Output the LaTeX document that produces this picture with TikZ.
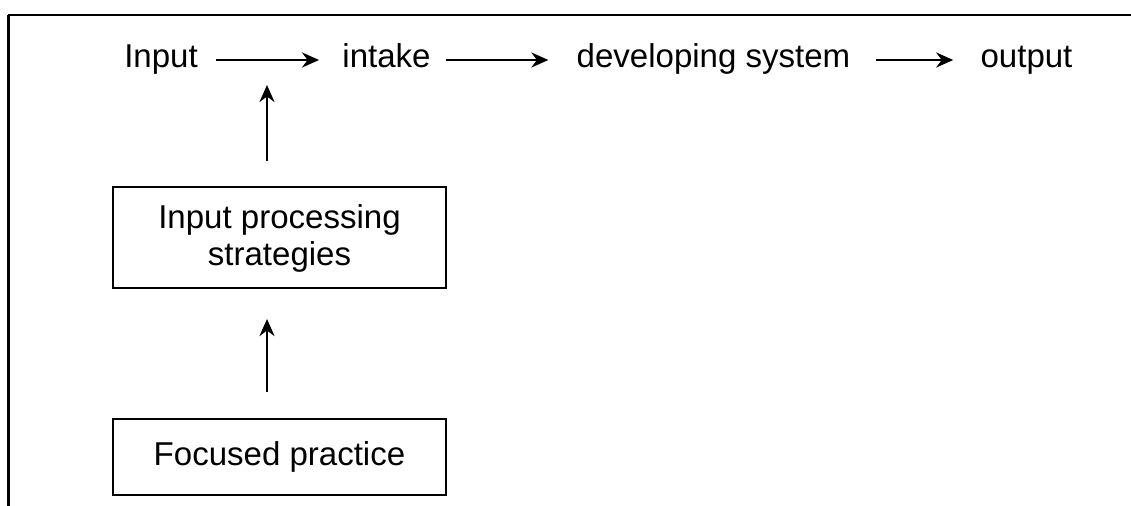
\documentclass[tikz,border=0pt]{standalone}
\usepackage{fontspec}
\setmainfont{Liberation Sans}
\usetikzlibrary{arrows.meta,positioning}
\tikzset{
  word/.style={font=\fontsize{18.8}{21}\selectfont,inner sep=0pt,
               anchor=base,text height=0.5cm,text depth=0.18cm},
  stagebox/.style={draw,line width=1.2pt,minimum width=6.66cm,
                   font=\fontsize{18.8}{21}\selectfont,align=center,inner sep=0pt},
  flow/.style={-{Stealth[length=0.34cm,width=0.3cm]},line width=1.5pt},
}
\begin{document}
\begin{tikzpicture}[x=0.02cm,y=-0.02cm]
  \useasboundingbox (0,0) rectangle (1131,506);
  \draw[line width=1.2pt](1131,15)--(8,15);
  \draw[line width=1.8pt](8.5,15)--(8.5,506);
  \foreach \n/\x/\t in {
    input/161/{Input},
    intake/386.5/{intake},
    devsys/713.5/{developing system},
    output/1026.5/{output}
  }{
    \node[word](\n)at(\x,68){\t};
  }
  \foreach \a/\b/\s/\e in {
    input/intake/0.36cm/0.46cm,
    intake/devsys/0.30cm/0.56cm,
    devsys/output/0.50cm/0.54cm
  }{
    \draw[flow,shorten <=\s,shorten >=\e](\a.east)--(\b.west);
  }
  \node[stagebox,minimum height=2.02cm](strat)at(279.5,237.5)
    {\strut Input processing\\strategies};
  \node[stagebox,minimum height=1.52cm](focus)at(279.5,457)
    {Focused practice};
  \coordinate(meet)at(267,85);
  \draw[flow,shorten <=0.5cm](strat.north -| meet)--(meet);
  \draw[flow,shorten <=0.52cm,shorten >=0.6cm](focus.north -| meet)
    --(strat.south -| meet);
\end{tikzpicture}
\end{document}
